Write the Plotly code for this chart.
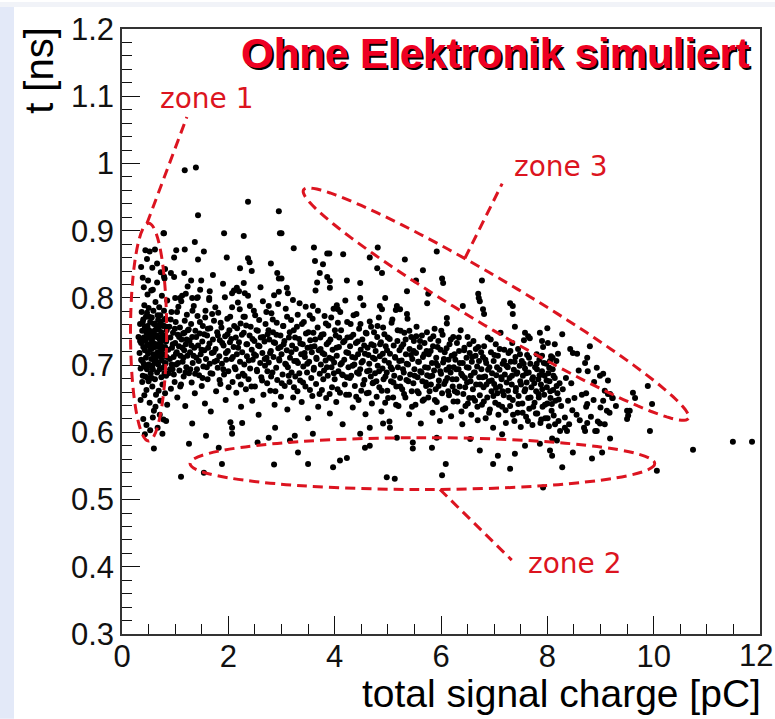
import numpy as np
import plotly.graph_objects as go

# ---------------- data ((charge [pC], t [ns])) ----------------
zone1_points = [
    (0.31,0.742),(0.33,0.718),(0.34,0.761),(0.35,0.695),(0.36,0.733),(0.37,0.779),(0.38,0.706),(0.38,0.751),
    (0.39,0.684),(0.40,0.727),(0.40,0.768),(0.41,0.741),(0.41,0.702),(0.42,0.655),(0.42,0.789),(0.43,0.722),
    (0.43,0.757),(0.44,0.683),(0.44,0.736),(0.45,0.711),(0.45,0.772),(0.46,0.748),(0.46,0.663),(0.47,0.729),
    (0.47,0.694),(0.48,0.758),(0.48,0.805),(0.49,0.717),(0.49,0.741),(0.50,0.676),(0.50,0.785),(0.51,0.731),
    (0.51,0.752),(0.52,0.699),(0.52,0.644),(0.53,0.764),(0.53,0.723),(0.54,0.688),(0.54,0.745),(0.55,0.811),
    (0.55,0.709),(0.56,0.737),(0.56,0.771),(0.57,0.668),(0.57,0.725),(0.58,0.749),(0.58,0.694),(0.59,0.781),
    (0.59,0.716),(0.60,0.742),(0.60,0.632),(0.61,0.703),(0.61,0.762),(0.62,0.727),(0.62,0.679),(0.63,0.794),
    (0.63,0.744),(0.64,0.712),(0.64,0.656),(0.65,0.758),(0.65,0.731),(0.66,0.689),(0.66,0.823),(0.67,0.719),
    (0.67,0.774),(0.68,0.741),(0.68,0.701),(0.69,0.662),(0.69,0.753),(0.70,0.727),(0.70,0.786),(0.71,0.694),
    (0.71,0.738),(0.72,0.713),(0.72,0.647),(0.73,0.765),(0.73,0.731),(0.74,0.682),(0.74,0.749),(0.75,0.707),
    (0.75,0.803),(0.76,0.724),(0.76,0.671),(0.77,0.758),(0.77,0.696),(0.78,0.737),(0.78,0.619),(0.79,0.716),
    (0.79,0.781),(0.80,0.688),(0.80,0.744),(0.81,0.727),(0.81,0.658),(0.82,0.703),(0.82,0.769),(0.83,0.735),
    (0.83,0.684),(0.84,0.712),(0.84,0.752),(0.85,0.641),(0.85,0.796),
    (0.36,0.846),(0.39,0.830),(0.44,0.871),(0.47,0.858),(0.52,0.869),(0.57,0.845),(0.62,0.872),(0.66,0.851),
    (0.73,0.838),(0.78,0.896),(0.80,0.829),(0.41,0.816),(0.49,0.826),(0.58,0.812),(0.35,0.648),(0.40,0.620),
    (0.46,0.611),(0.53,0.603),(0.58,0.622),(0.67,0.607),(0.71,0.626),(0.76,0.598),(0.43,0.597),(0.38,0.675),
    (0.63,0.638),(0.83,0.617),
    (0.39,0.764),(0.42,0.698),(0.45,0.739),(0.48,0.681),(0.51,0.772),(0.54,0.726),(0.57,0.699),(0.60,0.761),
    (0.63,0.707),(0.66,0.744),(0.69,0.718),(0.72,0.774),(0.75,0.741),(0.78,0.759),(0.81,0.702),(0.44,0.756),
    (0.47,0.778),(0.50,0.701),(0.53,0.744),(0.56,0.681),(0.59,0.733),(0.62,0.752),(0.65,0.705),(0.68,0.767),
    (0.71,0.760),(0.74,0.722),(0.77,0.715),(0.80,0.768),(0.83,0.757),(0.36,0.708),(0.34,0.736),
]

core_points = [
    (0.87,0.723),(0.88,0.688),(0.89,0.757),(0.90,0.709),(0.91,0.741),(0.92,0.665),(0.93,0.779),(0.94,0.726),
    (0.95,0.694),(0.96,0.748),(0.97,0.712),(0.98,0.831),(0.99,0.675),(1.00,0.733),(1.01,0.764),(1.02,0.701),
    (1.03,0.719),(1.04,0.652),(1.05,0.745),(1.06,0.787),(1.07,0.728),(1.08,0.692),(1.09,0.756),(1.10,0.714),
    (1.11,0.671),(1.12,0.738),(1.13,0.803),(1.14,0.705),(1.15,0.747),(1.16,0.683),(1.17,0.722),(1.18,0.766),
    (1.19,0.639),(1.20,0.731),(1.21,0.697),(1.22,0.775),(1.23,0.714),(1.24,0.752),
    (1.26,0.688),(1.27,0.736),(1.28,0.719),(1.30,0.761),(1.31,0.674),(1.32,0.742),(1.33,0.703),(1.35,0.788),
    (1.36,0.726),(1.37,0.658),(1.38,0.751),(1.40,0.711),(1.41,0.694),(1.42,0.773),(1.43,0.729),(1.45,0.685),
    (1.46,0.747),(1.47,0.812),(1.48,0.716),(1.50,0.669),(1.51,0.735),(1.52,0.758),(1.53,0.698),(1.55,0.722),
    (1.56,0.643),(1.57,0.781),(1.58,0.709),(1.60,0.744),(1.61,0.679),(1.62,0.726),(1.64,0.797),(1.65,0.702),
    (1.66,0.755),(1.67,0.631),(1.69,0.718),(1.70,0.687),(1.71,0.738),(1.73,0.766),(1.74,0.705),
    (1.76,0.724),(1.77,0.661),(1.79,0.749),(1.80,0.696),(1.81,0.778),(1.83,0.713),(1.84,0.737),(1.85,0.672),
    (1.87,0.756),(1.88,0.702),(1.90,0.821),(1.91,0.729),(1.92,0.686),(1.94,0.743),(1.95,0.648),(1.96,0.708),
    (1.98,0.769),(1.99,0.721),(2.00,0.691),(2.02,0.752),(2.03,0.734),(2.04,0.615),(2.06,0.709),(2.07,0.786),
    (2.08,0.675),(2.10,0.727),(2.11,0.758),(2.12,0.697),(2.14,0.741),(2.15,0.659),(2.16,0.716),(2.18,0.793),
    (2.19,0.683),(2.20,0.734),(2.22,0.705),(2.23,0.762),(2.24,0.638),
    (2.26,0.719),(2.27,0.687),(2.29,0.748),(2.30,0.701),(2.31,0.772),(2.33,0.664),(2.34,0.731),(2.35,0.713),
    (2.37,0.803),(2.38,0.679),(2.40,0.744),(2.41,0.695),(2.42,0.757),(2.44,0.723),(2.45,0.647),(2.46,0.708),
    (2.48,0.781),(2.49,0.736),(2.50,0.668),(2.52,0.714),(2.53,0.752),(2.54,0.691),(2.56,0.729),(2.57,0.626),
    (2.58,0.767),(2.60,0.703),(2.61,0.741),(2.62,0.682),(2.64,0.718),(2.65,0.795),(2.66,0.656),(2.68,0.735),
    (2.69,0.699),(2.70,0.761),(2.72,0.711),(2.73,0.673),(2.74,0.746),
    (2.76,0.704),(2.77,0.738),(2.79,0.662),(2.80,0.721),(2.81,0.777),(2.83,0.689),(2.84,0.749),(2.85,0.712),
    (2.87,0.641),(2.88,0.733),(2.90,0.696),(2.91,0.763),(2.92,0.678),(2.94,0.725),(2.95,0.809),(2.96,0.707),
    (2.98,0.744),(2.99,0.653),(3.00,0.716),(3.02,0.686),(3.03,0.758),(3.04,0.731),(3.06,0.669),(3.07,0.702),
    (3.08,0.784),(3.10,0.722),(3.11,0.634),(3.12,0.697),(3.14,0.741),(3.15,0.675),(3.16,0.711),(3.18,0.767),
    (3.19,0.689),(3.20,0.729),(3.22,0.652),(3.23,0.752),(3.24,0.706),
    (3.26,0.683),(3.27,0.724),(3.29,0.757),(3.30,0.661),(3.31,0.703),(3.33,0.739),(3.34,0.792),(3.35,0.677),
    (3.37,0.716),(3.38,0.645),(3.40,0.731),(3.41,0.698),(3.42,0.764),(3.44,0.712),(3.45,0.668),(3.46,0.747),
    (3.48,0.689),(3.49,0.726),(3.50,0.621),(3.52,0.705),(3.53,0.774),(3.54,0.737),(3.56,0.681),(3.57,0.719),
    (3.58,0.654),(3.60,0.748),(3.61,0.696),(3.62,0.728),(3.64,0.811),(3.65,0.672),(3.66,0.709),(3.68,0.756),
    (3.69,0.638),(3.70,0.722),(3.72,0.687),(3.73,0.741),(3.74,0.701),
    (3.76,0.663),(3.77,0.718),(3.79,0.746),(3.80,0.692),(3.81,0.773),(3.83,0.707),(3.84,0.651),(3.85,0.731),
    (3.87,0.684),(3.88,0.759),(3.90,0.711),(3.91,0.628),(3.92,0.738),(3.94,0.697),(3.95,0.667),(3.96,0.723),
    (3.98,0.784),(3.99,0.704),(4.00,0.679),(4.02,0.744),(4.03,0.645),(4.04,0.714),(4.06,0.763),(4.07,0.691),
    (4.08,0.727),(4.10,0.659),(4.11,0.701),(4.12,0.752),(4.14,0.686),(4.15,0.612),(4.16,0.734),(4.18,0.708),
    (4.19,0.671),(4.20,0.796),(4.22,0.719),(4.23,0.682),(4.24,0.741),
    (4.26,0.697),(4.27,0.656),(4.29,0.728),(4.30,0.761),(4.31,0.684),(4.33,0.712),(4.34,0.637),(4.35,0.745),
    (4.37,0.701),(4.38,0.669),(4.40,0.733),(4.41,0.776),(4.42,0.689),(4.44,0.716),(4.45,0.648),(4.46,0.754),
    (4.48,0.694),(4.49,0.723),(4.50,0.662),(4.52,0.738),(4.53,0.706),(4.54,0.789),(4.56,0.678),(4.57,0.717),
    (4.58,0.627),(4.60,0.747),(4.61,0.691),(4.62,0.726),(4.64,0.659),(4.65,0.702),(4.66,0.765),(4.68,0.683),
    (4.69,0.731),(4.70,0.643),(4.72,0.711),(4.73,0.674),(4.74,0.749),
    (4.76,0.688),(4.77,0.721),(4.79,0.653),(4.80,0.742),(4.81,0.699),(4.83,0.771),(4.84,0.667),(4.85,0.713),
    (4.87,0.734),(4.88,0.631),(4.90,0.695),(4.91,0.756),(4.92,0.679),(4.94,0.707),(4.95,0.644),(4.96,0.728),
    (4.98,0.689),(4.99,0.662),(5.00,0.741),(5.02,0.703),(5.03,0.616),(5.04,0.717),(5.06,0.676),(5.07,0.763),
    (5.08,0.694),(5.10,0.652),(5.11,0.729),(5.12,0.684),(5.14,0.711),(5.15,0.782),(5.16,0.668),(5.18,0.736),
    (5.19,0.697),(5.20,0.639),(5.22,0.722),(5.23,0.681),(5.24,0.751),
    (5.26,0.707),(5.27,0.664),(5.29,0.731),(5.30,0.689),(5.31,0.748),(5.33,0.652),(5.34,0.716),(5.35,0.678),
    (5.37,0.769),(5.38,0.701),(5.40,0.627),(5.41,0.724),(5.42,0.686),(5.44,0.742),(5.45,0.661),(5.46,0.709),
    (5.48,0.673),(5.49,0.736),(5.50,0.694),(5.52,0.641),(5.53,0.718),(5.54,0.757),(5.56,0.682),(5.57,0.705),
    (5.58,0.658),(5.60,0.727),(5.61,0.691),(5.62,0.613),(5.64,0.744),(5.65,0.676),(5.66,0.712),(5.68,0.649),
    (5.69,0.733),(5.70,0.697),(5.72,0.669),(5.73,0.721),(5.74,0.685),
    (5.76,0.652),(5.77,0.716),(5.79,0.683),(5.80,0.739),(5.81,0.671),(5.83,0.703),(5.84,0.629),(5.85,0.728),
    (5.87,0.692),(5.88,0.754),(5.90,0.664),(5.91,0.711),(5.92,0.645),(5.94,0.699),(5.95,0.736),(5.96,0.677),
    (5.98,0.617),(5.99,0.723),(6.00,0.687),(6.02,0.658),(6.03,0.745),(6.04,0.704),(6.06,0.672),(6.07,0.719),
    (6.08,0.636),(6.10,0.693),(6.11,0.762),(6.12,0.681),(6.14,0.708),(6.15,0.655),(6.16,0.731),(6.18,0.689),
    (6.19,0.624),(6.20,0.714),(6.22,0.668),(6.23,0.742),(6.24,0.697),
    (6.26,0.661),(6.27,0.708),(6.29,0.679),(6.30,0.733),(6.31,0.646),(6.33,0.694),(6.34,0.721),(6.35,0.668),
    (6.37,0.752),(6.38,0.687),(6.40,0.612),(6.41,0.703),(6.42,0.657),(6.44,0.726),(6.45,0.681),(6.46,0.639),
    (6.48,0.711),(6.49,0.674),(6.50,0.742),(6.52,0.696),(6.53,0.651),(6.54,0.718),(6.56,0.684),(6.57,0.626),
    (6.58,0.705),(6.60,0.664),(6.61,0.736),(6.62,0.689),(6.64,0.647),(6.65,0.714),(6.66,0.671),(6.68,0.698),
    (6.69,0.618),(6.70,0.727),(6.72,0.682),(6.73,0.655),
    (6.76,0.694),(6.77,0.641),(6.79,0.712),(6.80,0.667),(6.81,0.728),(6.83,0.683),(6.84,0.621),(6.85,0.703),
    (6.87,0.652),(6.88,0.741),(6.90,0.676),(6.91,0.697),(6.92,0.634),(6.94,0.719),(6.95,0.661),(6.96,0.688),
    (6.98,0.607),(6.99,0.706),(7.00,0.672),(7.02,0.644),(7.03,0.731),(7.04,0.685),(7.06,0.658),(7.07,0.714),
    (7.08,0.626),(7.10,0.693),(7.11,0.668),(7.12,0.748),(7.14,0.679),(7.15,0.638),(7.16,0.702),(7.18,0.655),
    (7.19,0.723),(7.20,0.686),(7.22,0.614),(7.23,0.699),
    (7.26,0.662),(7.27,0.718),(7.29,0.681),(7.30,0.639),(7.31,0.705),(7.33,0.671),(7.34,0.733),(7.35,0.648),
    (7.37,0.693),(7.38,0.617),(7.40,0.712),(7.41,0.666),(7.42,0.687),(7.44,0.629),(7.45,0.724),(7.46,0.654),
    (7.48,0.699),(7.49,0.676),(7.50,0.608),(7.52,0.706),(7.53,0.643),(7.54,0.684),(7.56,0.737),(7.57,0.661),
    (7.58,0.695),(7.60,0.623),(7.61,0.674),(7.62,0.715),(7.64,0.651),(7.65,0.689),(7.66,0.635),(7.68,0.702),
    (7.70,0.667),(7.72,0.611),(7.73,0.682),
    (7.76,0.644),(7.77,0.697),(7.79,0.661),(7.80,0.716),(7.81,0.628),(7.83,0.679),(7.84,0.652),(7.85,0.708),
    (7.87,0.614),(7.88,0.671),(7.90,0.691),(7.91,0.638),(7.92,0.727),(7.94,0.656),(7.95,0.684),(7.96,0.621),
    (7.98,0.702),(7.99,0.667),(8.00,0.643),(8.02,0.688),(8.03,0.609),(8.04,0.676),(8.06,0.651),(8.07,0.713),
    (8.08,0.632),(8.10,0.694),(8.11,0.663),(8.12,0.625),(8.14,0.681),(8.15,0.647),(8.17,0.706),(8.19,0.658),
    (8.21,0.617),(8.23,0.673),
    (8.26,0.639),(8.29,0.664),(8.33,0.622),(8.35,0.681),(8.39,0.647),(8.41,0.612),(8.45,0.673),(8.47,0.633),
    (8.51,0.651),(8.55,0.626),(8.59,0.692),(8.61,0.618),(8.65,0.656),(8.69,0.607),(8.73,0.638),
    (8.82,0.623),(8.87,0.648),(8.95,0.616),(9.00,0.637),(9.08,0.612),(9.17,0.629),
]

core_points_extra = [
    (0.905,0.694),(0.915,0.768),(0.935,0.701),(0.955,0.731),(0.975,0.686),(0.995,0.754),(1.015,0.717),(1.035,0.779),
    (1.055,0.703),(1.075,0.742),(1.095,0.668),(1.115,0.795),(1.135,0.726),(1.155,0.711),(1.175,0.748),(1.195,0.689),
    (1.215,0.738),(1.235,0.817),
    (1.255,0.753),(1.285,0.694),(1.305,0.729),(1.325,0.781),(1.345,0.714),(1.375,0.687),(1.395,0.742),(1.425,0.801),
    (1.445,0.706),(1.465,0.764),(1.495,0.723),(1.515,0.681),(1.545,0.746),(1.565,0.771),(1.595,0.697),(1.615,0.754),
    (1.645,0.732),(1.665,0.688),(1.695,0.776),(1.725,0.719),
    (1.755,0.786),(1.785,0.707),(1.805,0.744),(1.835,0.678),(1.855,0.763),(1.885,0.733),(1.905,0.694),(1.935,0.801),
    (1.955,0.718),(1.985,0.746),(2.005,0.667),(2.035,0.772),(2.055,0.739),(2.085,0.712),(2.105,0.811),(2.135,0.694),
    (2.165,0.755),(2.185,0.726),(2.215,0.783),(2.235,0.671),
    (2.255,0.745),(2.285,0.772),(2.305,0.684),(2.335,0.759),(2.355,0.731),(2.385,0.707),(2.405,0.788),(2.435,0.668),
    (2.455,0.739),(2.485,0.716),(2.505,0.774),(2.535,0.693),(2.555,0.751),(2.585,0.728),(2.605,0.816),(2.635,0.677),
    (2.655,0.742),(2.685,0.709),(2.715,0.779),(2.735,0.691),
    (2.755,0.752),(2.785,0.718),(2.805,0.683),(2.835,0.768),(2.855,0.734),(2.885,0.661),(2.905,0.745),(2.935,0.791),
    (2.955,0.709),(2.985,0.727),(3.005,0.673),(3.035,0.758),(3.055,0.736),(3.085,0.701),(3.105,0.772),(3.135,0.684),
    (3.155,0.749),(3.185,0.719),(3.215,0.797),(3.235,0.667),
    (3.255,0.741),(3.285,0.706),(3.305,0.775),(3.335,0.688),(3.355,0.732),(3.385,0.761),(3.405,0.674),(3.435,0.718),
    (3.455,0.787),(3.485,0.702),(3.505,0.749),(3.535,0.663),(3.555,0.727),(3.585,0.769),(3.605,0.693),(3.635,0.738),
    (3.655,0.711),(3.685,0.781),(3.715,0.657),(3.735,0.724),
    (3.755,0.745),(3.785,0.679),(3.805,0.716),(3.835,0.762),(3.855,0.697),(3.885,0.734),(3.905,0.657),(3.935,0.771),
    (3.955,0.709),(3.985,0.688),(4.005,0.752),(4.035,0.726),(4.055,0.664),(4.085,0.741),(4.105,0.779),(4.135,0.703),
    (4.155,0.685),(4.185,0.736),(4.215,0.656),(4.235,0.764),
    (4.255,0.718),(4.285,0.681),(4.305,0.742),(4.335,0.699),(4.355,0.774),(4.385,0.711),(4.405,0.653),(4.435,0.735),
    (4.455,0.687),(4.485,0.761),(4.505,0.704),(4.535,0.671),(4.555,0.729),(4.585,0.748),(4.605,0.658),(4.635,0.715),
    (4.655,0.692),(4.685,0.757),(4.715,0.673),(4.735,0.729),
    (4.755,0.709),(4.785,0.676),(4.805,0.758),(4.835,0.691),(4.855,0.731),(4.885,0.662),(4.905,0.717),(4.935,0.746),
    (4.955,0.683),(4.985,0.722),(5.005,0.651),(5.035,0.739),(5.055,0.697),(5.085,0.768),(5.105,0.674),(5.135,0.712),
    (5.155,0.641),(5.185,0.752),(5.215,0.706),(5.235,0.668),
    (5.255,0.727),(5.285,0.694),(5.305,0.657),(5.335,0.738),(5.355,0.702),(5.385,0.676),(5.405,0.751),(5.435,0.715),
    (5.455,0.638),(5.485,0.721),(5.505,0.684),(5.535,0.743),(5.555,0.661),(5.585,0.705),(5.605,0.736),(5.635,0.689),
    (5.655,0.647),(5.685,0.716),(5.715,0.674),(5.735,0.749),
    (5.755,0.696),(5.785,0.661),(5.805,0.721),(5.835,0.684),(5.855,0.743),(5.885,0.648),(5.905,0.703),(5.935,0.727),
    (5.955,0.669),(5.985,0.691),(6.005,0.751),(6.035,0.634),(6.055,0.709),(6.085,0.676),(6.105,0.725),(6.135,0.661),
    (6.155,0.697),(6.185,0.738),(6.215,0.679),(6.235,0.646),
    (6.255,0.716),(6.285,0.694),(6.305,0.659),(6.335,0.741),(6.355,0.703),(6.385,0.631),(6.405,0.684),(6.435,0.722),
    (6.455,0.667),(6.485,0.697),(6.505,0.643),(6.535,0.731),(6.555,0.676),(6.585,0.712),(6.605,0.651),(6.635,0.689),
    (6.655,0.724),(6.685,0.638),(6.715,0.706),(6.735,0.671),
    (6.755,0.719),(6.785,0.682),(6.805,0.646),(6.835,0.708),(6.855,0.671),(6.885,0.693),(6.905,0.629),(6.935,0.738),
    (6.955,0.677),(6.985,0.654),(7.005,0.715),(7.035,0.666),(7.055,0.697),(7.085,0.641),(7.105,0.724),(7.135,0.682),
    (7.155,0.661),(7.185,0.706),(7.215,0.633),(7.235,0.674),
    (7.255,0.697),(7.285,0.652),(7.305,0.721),(7.335,0.684),(7.355,0.626),(7.385,0.705),(7.405,0.661),(7.435,0.689),
    (7.455,0.642),(7.485,0.716),(7.505,0.671),(7.535,0.629),(7.555,0.702),(7.585,0.664),(7.605,0.688),(7.635,0.617),
    (7.655,0.711),(7.685,0.652),(7.715,0.679),(7.735,0.638),
    (7.755,0.673),(7.785,0.628),(7.805,0.694),(7.835,0.657),(7.855,0.685),(7.885,0.619),(7.905,0.664),(7.935,0.703),
    (7.955,0.641),(7.985,0.677),(8.005,0.621),(8.035,0.696),(8.055,0.661),(8.085,0.642),(8.115,0.684),(8.145,0.612),
    (8.175,0.669),(8.215,0.649),
]

upper_points = [
    (1.18,0.990),(1.39,0.994),(2.37,0.943),(2.95,0.929),(1.43,0.923),(0.79,0.896),(1.92,0.896),(2.29,0.892),
    (2.97,0.896),(1.37,0.883),(1.18,0.872),(1.02,0.871),(1.54,0.869),(1.97,0.860),(2.37,0.859),(2.40,0.853),
    (0.98,0.860),(1.43,0.857),(2.80,0.851),(0.81,0.843),(0.79,0.832),(0.92,0.837),(1.17,0.837),(2.22,0.844),
    (2.44,0.840),(2.92,0.837),(2.95,0.829),(1.71,0.834),(1.30,0.826),(1.49,0.826),(1.00,0.800),(1.09,0.800),
    (1.20,0.806),(1.32,0.800),(1.41,0.800),(1.65,0.810),(1.64,0.800),(2.07,0.807),(2.16,0.815),(2.20,0.810),
    (2.29,0.822),(2.31,0.807),(2.76,0.788),(2.86,0.804),
    (3.00,0.896),(3.23,0.874),(3.61,0.875),(3.86,0.866),(3.90,0.866),(4.16,0.865),(4.81,0.875),(4.66,0.860),
    (3.63,0.855),(3.78,0.850),(4.80,0.844),(4.89,0.837),(5.32,0.857),(5.92,0.869),(3.72,0.837),(3.86,0.831),
    (3.91,0.825),(3.67,0.823),(3.00,0.829),(3.10,0.815),(4.23,0.826),(4.48,0.822),(3.91,0.815),(5.66,0.841),
    (5.53,0.826),(5.36,0.810),(6.02,0.829),(6.04,0.822),(3.12,0.807),(4.48,0.800),(4.95,0.800),(5.76,0.806),
    (3.59,0.788),(4.04,0.789),(4.06,0.783),(4.85,0.788),(4.89,0.783),(5.17,0.788),(5.23,0.783),(5.36,0.776),
    (5.74,0.792),(6.11,0.770),(6.41,0.788),(6.70,0.806),
    (6.77,0.826),(6.71,0.800),(6.73,0.795),(6.79,0.783),(6.81,0.776),(7.30,0.792),(7.35,0.788),(7.35,0.776),
    (7.39,0.757),(7.58,0.748),(7.64,0.743),(7.67,0.740),(7.86,0.748),(8.00,0.755),(8.28,0.746),(7.90,0.736),
    (8.01,0.733),(8.14,0.731),(8.43,0.724),(8.48,0.718),(8.56,0.717),(8.80,0.728),(8.75,0.711),(8.71,0.703),
    (8.20,0.717),(8.10,0.711),(8.05,0.706),(7.90,0.714),(7.80,0.702),(8.93,0.696),(9.05,0.687),(9.14,0.677),
    (8.76,0.691),(9.08,0.662),(9.18,0.657),(9.23,0.651),(9.61,0.659),(9.65,0.651),(9.97,0.642),(9.89,0.669),
    (9.50,0.632),(9.52,0.625),(9.05,0.647),(9.12,0.632),(9.93,0.602),(8.75,0.642),(8.75,0.614),(8.71,0.602),
    (8.90,0.602),(8.99,0.684),(8.93,0.602),(8.99,0.613),(9.29,0.639),(9.55,0.632),(9.50,0.620),(9.22,0.651),
    (9.14,0.657),(8.88,0.675),(8.73,0.658),
]

lower_points = [
    (1.26,0.583),(1.11,0.534),(1.54,0.540),(1.88,0.553),(1.82,0.577),(2.86,0.552),(2.07,0.607),(2.07,0.598),
    (2.76,0.592),(2.88,0.607),(1.32,0.613),(2.26,0.614),(3.31,0.570),(3.50,0.553),(3.97,0.548),(4.10,0.558),
    (4.23,0.562),(4.57,0.577),(4.66,0.580),(4.98,0.533),(5.13,0.531),(5.47,0.576),(5.47,0.585),(5.83,0.577),
    (6.09,0.553),(6.02,0.536),(3.25,0.595),(3.16,0.588),(3.59,0.598),(4.48,0.598),(4.66,0.607),(4.91,0.613),
    (5.04,0.607),(5.17,0.592),(5.92,0.592),(9.18,0.591),(9.03,0.570),(8.84,0.561),(8.48,0.570),(8.28,0.548),
    (8.05,0.573),(8.09,0.565),(8.24,0.602),(8.33,0.607),(8.37,0.602),(8.09,0.591),(8.18,0.588),(7.92,0.518),
    (7.86,0.583),(7.58,0.580),(7.39,0.568),(7.30,0.546),(7.07,0.565),(6.98,0.553),(6.73,0.573),(10.06,0.543),
    (10.74,0.574),(11.49,0.586),(11.85,0.586),(0.60,0.576),(1.58,0.595),(2.55,0.585),(6.55,0.590),(7.15,0.597),
]

x_tick_values = [0, 2, 4, 6, 8, 10, 12]
x_tick_labels = ["0", "2", "4", "6", "8", "10", "12"]
y_tick_values = [0.3, 0.4, 0.5, 0.6, 0.7, 0.8, 0.9, 1.0, 1.1, 1.2]
y_tick_labels = ["0.3", "0.4", "0.5", "0.6", "0.7", "0.8", "0.9", "1", "1.1", "1.2"]

all_points = zone1_points + core_points + core_points_extra + upper_points + lower_points
charge = [p[0] for p in all_points]
time_ns = [p[1] for p in all_points]

# ---------------- layout constants ----------------
W, H = 775, 719
ML, MR, MT, MB = 122, 15, 27, 85
XR = (0, 12)
YR = (0.3, 1.2)
PW, PH = W - ML - MR, H - MT - MB
px_per_x = PW / (XR[1] - XR[0])
px_per_y = PH / (YR[1] - YR[0])

RED = "#dc1420"
DASH = "10px,6px"
TICKFONT = dict(family="Liberation Sans", size=31, color="#111")

fig = go.Figure()
fig.add_trace(go.Scatter(
    x=charge, y=time_ns, mode="markers",
    marker=dict(color="black", size=6, line=dict(width=0)),
    hoverinfo="skip", showlegend=False,
))

shapes = []
# background strips of the slide
shapes.append(dict(type="rect", xref="paper", yref="paper",
                   x0=-ML / PW, x1=(14 - ML) / PW, y0=-MB / PH, y1=(H - MB) / PH,
                   fillcolor="#e3e9f8", line=dict(width=0), layer="below"))
shapes.append(dict(type="rect", xref="paper", yref="paper",
                   x0=-ML / PW, x1=(W - ML) / PW, y0=(H - MB - 5) / PH, y1=(H - MB) / PH,
                   fillcolor="#f1f3f8", line=dict(width=0), layer="below"))

line_style = dict(color=RED, width=3, dash=DASH)
# zone 1 ellipse
shapes.append(dict(type="circle", xref="x", yref="y", x0=0.16, x1=0.84, y0=0.587, y1=0.911, line=line_style))
# zone 2 ellipse
shapes.append(dict(type="circle", xref="x", yref="y", x0=1.28, x1=10.02, y0=0.515, y1=0.592, line=line_style))
# zone 3 tilted ellipse (defined in screen pixels around its centre)
cx, cy = 7.034, 0.7907
a_px, b_px = 224, 24
ux, uy = 0.859, 0.512
t = np.linspace(0, 2 * np.pi, 121)
dx_px = a_px * np.cos(t) * ux - b_px * np.sin(t) * uy
dy_px = a_px * np.cos(t) * uy + b_px * np.sin(t) * ux
ex = cx + dx_px / px_per_x
ey = cy - dy_px / px_per_y
path = "M " + " L ".join(f"{a:.4f},{b:.4f}" for a, b in zip(ex, ey)) + " Z"
shapes.append(dict(type="path", xref="x", yref="y", path=path, line=line_style))
# leader lines
shapes.append(dict(type="line", xref="x", yref="y", x0=0.47, y0=0.911, x1=1.22, y1=1.069, line=line_style))
shapes.append(dict(type="line", xref="x", yref="y", x0=6.45, y0=0.859, x1=7.15, y1=0.970, line=line_style))
shapes.append(dict(type="line", xref="x", yref="y", x0=5.98, y0=0.515, x1=7.33, y1=0.410, line=line_style))

zone_font = dict(family="DejaVu Sans", size=28, color=RED)
annotations = [
    dict(text="Ohne Elektronik simuliert", xref="x", yref="y", x=11.85, y=1.163,
         xanchor="right", yanchor="middle", showarrow=False,
         font=dict(family="Liberation Sans", size=42, color="#ee0022", weight="bold",
                   shadow="2px 2px 0px #000")),
    dict(text="zone 1", xref="x", yref="y", x=1.6, y=1.096, xanchor="center", yanchor="middle",
         showarrow=False, font=zone_font),
    dict(text="zone 3", xref="x", yref="y", x=8.26, y=0.995, xanchor="center", yanchor="middle",
         showarrow=False, font=zone_font),
    dict(text="zone 2", xref="x", yref="y", x=8.52, y=0.405, xanchor="center", yanchor="middle",
         showarrow=False, font=zone_font),
    # last x tick label, shifted left as in the reference so it stays on the page
    dict(text=x_tick_labels[-1], xref="x", yref="paper", x=11.92, y=-22 / PH,
         xanchor="center", yanchor="middle", showarrow=False, font=TICKFONT),
    dict(text="total signal charge [pC]", xref="paper", yref="paper", x=(763 - ML) / PW,
         y=-(694 - (H - MB)) / PH, xanchor="right", yanchor="middle", showarrow=False,
         font=dict(family="Liberation Sans", size=39, color="black")),
    dict(text="t [ns]", xref="paper", yref="paper", x=(39 - ML) / PW,
         y=(H - MB - 68) / PH, xanchor="center", yanchor="middle", textangle=-90,
         showarrow=False, font=dict(family="Liberation Sans", size=40, color="black")),
]

axis_common = dict(
    showgrid=False, zeroline=False, showline=True, linecolor="#333", linewidth=1.5, mirror=True,
    ticks="inside", ticklen=18, tickwidth=1.3, tickcolor="#111", tickfont=TICKFONT,
)

fig.update_layout(
    width=W, height=H, margin=dict(l=ML, r=MR, t=MT, b=MB, pad=0),
    paper_bgcolor="white", plot_bgcolor="white", showlegend=False,
    shapes=shapes, annotations=annotations,
    xaxis=dict(range=list(XR), tickmode="array", tickvals=x_tick_values,
               ticktext=x_tick_labels[:-1] + [""], ticklabelstandoff=-6,
               minor=dict(ticks="inside", ticklen=10, dtick=0.5, tick0=0, tickcolor="#111", tickwidth=1.2,
                          showgrid=False),
               **axis_common),
    yaxis=dict(range=list(YR), tickmode="array", tickvals=y_tick_values,
               ticktext=y_tick_labels,
               minor=dict(ticks="inside", ticklen=10, dtick=0.02, tick0=0.3, tickcolor="#111", tickwidth=1.2,
                          showgrid=False),
               **axis_common),
)

fig.write_html("out.html")
